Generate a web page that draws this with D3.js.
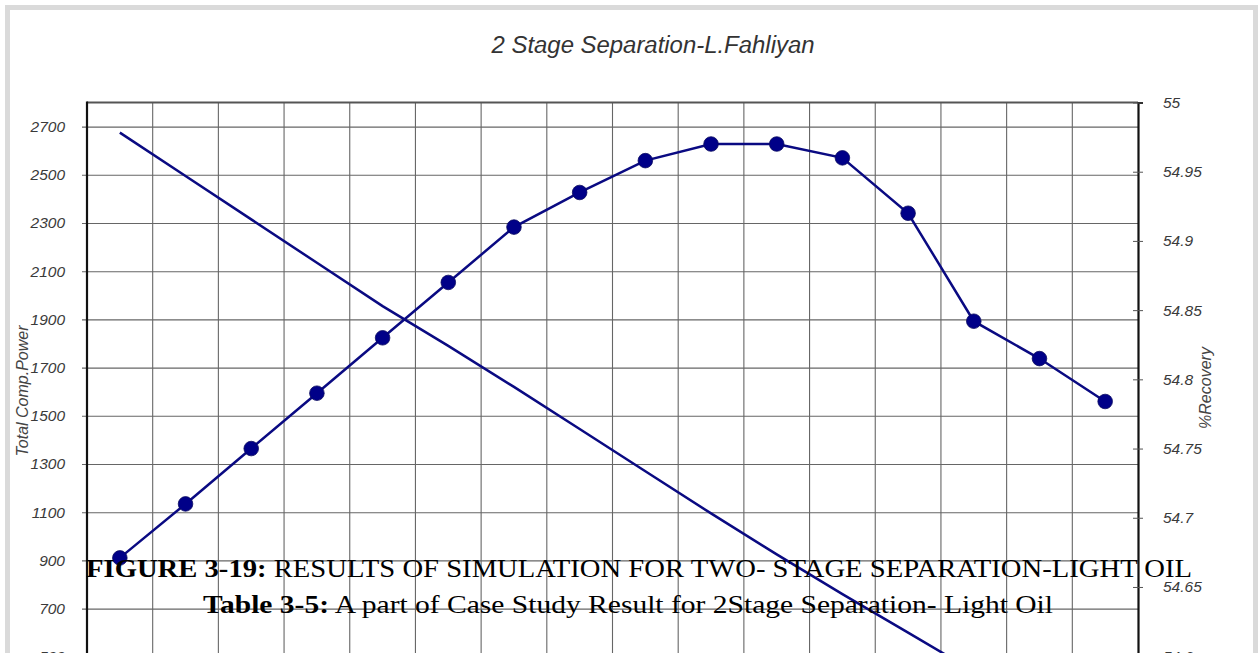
<!DOCTYPE html>
<html>
<head>
<meta charset="utf-8">
<script src="https://cdn.jsdelivr.net/npm/d3@7"></script>
<style>
  html, body { margin: 0; padding: 0; background: #fff; overflow: hidden; }
  svg { display: block; }
</style>
</head>
<body>
<svg id="chart" width="1258" height="653"></svg>
<script>
// Case study cases (second-stage separator runs)
const categories = ["1", "2", "3", "4", "5", "6", "7", "8", "9", "10", "11", "12", "13", "14", "15", "16"];
// %Recovery per case (right axis)
const recovery = [54.671, 54.710, 54.750, 54.790, 54.830, 54.870, 54.910, 54.935, 54.958, 54.970, 54.970, 54.960, 54.920, 54.842, 54.815, 54.784];
// Total compressor power per case (left axis)
const compPower = [2675, 2495, 2315, 2135, 1955, 1790, 1620, 1445, 1270, 1095, 925, 760, 600, 440, 275, 115];
// Tick labels
const powerTicks = [2700, 2500, 2300, 2100, 1900, 1700, 1500, 1300, 1100, 900, 700, 500, 300, 100];
const recoveryTicks = [55, 54.95, 54.9, 54.85, 54.8, 54.75, 54.7, 54.65, 54.6, 54.55];
const powerDomain = [0, 2800];
const recoveryDomain = [54.5125, 55];

const svg = d3.select("#chart");

// page frame
svg.append("rect")
  .attr("x", 7.5).attr("y", 7.5)
  .attr("width", 1248).attr("height", 800)
  .attr("fill", "#fff").attr("stroke", "#dadada").attr("stroke-width", 5);

const plot = { left: 87, right: 1138, top: 102.5, bottom: 777.3 };

const x = d3.scaleBand().domain(categories).range([plot.left, plot.right]).padding(0);
const yL = d3.scaleLinear().domain(powerDomain).range([plot.bottom, plot.top]);
const yR = d3.scaleLinear().domain(recoveryDomain).range([plot.bottom, plot.top]);

const gridColor = "#666";
const navy = "#0a0a82";
const sans = "'Liberation Sans', Arial, sans-serif";

// vertical grid lines at case boundaries
const bounds = categories.map(c => x(c)).concat([plot.right]);
svg.append("g").selectAll("line").data(bounds.slice(1, -1)).join("line")
  .attr("x1", d => d).attr("x2", d => d)
  .attr("y1", plot.top).attr("y2", plot.bottom)
  .attr("stroke", gridColor).attr("stroke-width", 1.1);

// left axis with grid lines
const leftAxis = d3.axisLeft(yL).tickValues(powerTicks)
  .tickSize(-(plot.right - plot.left + 5)).tickPadding(0).tickFormat(d3.format("d"));
const gL = svg.append("g").attr("transform", `translate(${plot.left - 5},0)`).call(leftAxis);
gL.select(".domain").remove();
gL.selectAll(".tick line").attr("stroke", gridColor).attr("stroke-width", 1.1);
gL.selectAll(".tick text")
  .attr("x", -17)
  .attr("fill", "#3a3a3a")
  .style("font-family", sans)
  .style("font-style", "italic")
  .style("font-size", "15.5px");

// top border
svg.append("line")
  .attr("x1", plot.left).attr("x2", plot.right)
  .attr("y1", plot.top).attr("y2", plot.top)
  .attr("stroke", "#555").attr("stroke-width", 2);

// left axis line
svg.append("line")
  .attr("x1", plot.left).attr("x2", plot.left)
  .attr("y1", plot.top - 1).attr("y2", plot.bottom)
  .attr("stroke", "#111").attr("stroke-width", 2.2);

// right axis
const rightAxis = d3.axisRight(yR).tickValues(recoveryTicks)
  .tickSize(5).tickPadding(20).tickFormat(d => String(d));
const gR = svg.append("g").attr("transform", `translate(${plot.right},0)`).call(rightAxis);
gR.select(".domain").attr("stroke", "#111").attr("stroke-width", 2.2);
gR.selectAll(".tick line").attr("x1", -5).attr("stroke", "#555").attr("stroke-width", 1);
gR.selectAll(".tick text")
  .attr("fill", "#3a3a3a")
  .style("font-family", sans)
  .style("font-style", "italic")
  .style("font-size", "15.5px");

// series
const cx = d => x(d) + x.bandwidth() / 2;

const powerLine = d3.line().x((d, i) => cx(categories[i])).y(d => yL(d));
svg.append("path").datum(compPower)
  .attr("d", powerLine)
  .attr("fill", "none").attr("stroke", navy).attr("stroke-width", 2.5);

const recLine = d3.line().x((d, i) => cx(categories[i])).y(d => yR(d));
svg.append("path").datum(recovery)
  .attr("d", recLine)
  .attr("fill", "none").attr("stroke", navy).attr("stroke-width", 2.5);

svg.append("g").selectAll("circle").data(recovery).join("circle")
  .attr("cx", (d, i) => cx(categories[i]))
  .attr("cy", d => yR(d))
  .attr("r", 7.3)
  .attr("fill", "#000088").attr("stroke", "#0a0a60").attr("stroke-width", 0.8);

// chart title
svg.append("text")
  .attr("x", 653).attr("y", 53)
  .attr("text-anchor", "middle")
  .attr("textLength", 323).attr("lengthAdjust", "spacingAndGlyphs")
  .attr("fill", "#333")
  .style("font-family", sans)
  .style("font-style", "italic")
  .style("font-size", "23px")
  .text("2 Stage Separation-L.Fahliyan");

// axis titles
svg.append("text")
  .attr("transform", "translate(28,391) rotate(-90)")
  .attr("text-anchor", "middle")
  .attr("fill", "#444")
  .style("font-family", sans)
  .style("font-style", "italic")
  .style("font-size", "16px")
  .text("Total Comp.Power");

svg.append("text")
  .attr("transform", "translate(1211,388) rotate(-90)")
  .attr("text-anchor", "middle")
  .attr("fill", "#444")
  .style("font-family", sans)
  .style("font-style", "italic")
  .style("font-size", "16px")
  .text("%Recovery");

// caption lines
const serif = "'Liberation Serif', 'Times New Roman', serif";
const cap1 = svg.append("text")
  .attr("x", 639).attr("y", 577).attr("text-anchor", "middle")
  .attr("textLength", 1106).attr("lengthAdjust", "spacingAndGlyphs")
  .attr("fill", "#000")
  .style("font-family", serif).style("font-size", "26px");
cap1.append("tspan").style("font-weight", "bold").text("FIGURE 3-19:");
cap1.append("tspan").text(" RESULTS OF SIMULATION FOR TWO- STAGE SEPARATION-LIGHT OIL");

const cap2 = svg.append("text")
  .attr("x", 628).attr("y", 613).attr("text-anchor", "middle")
  .attr("textLength", 850).attr("lengthAdjust", "spacingAndGlyphs")
  .attr("fill", "#000")
  .style("font-family", serif).style("font-size", "26px");
cap2.append("tspan").style("font-weight", "bold").text("Table 3-5:");
cap2.append("tspan").text(" A part of Case Study Result for 2Stage Separation- Light Oil");
</script>
</body>
</html>
